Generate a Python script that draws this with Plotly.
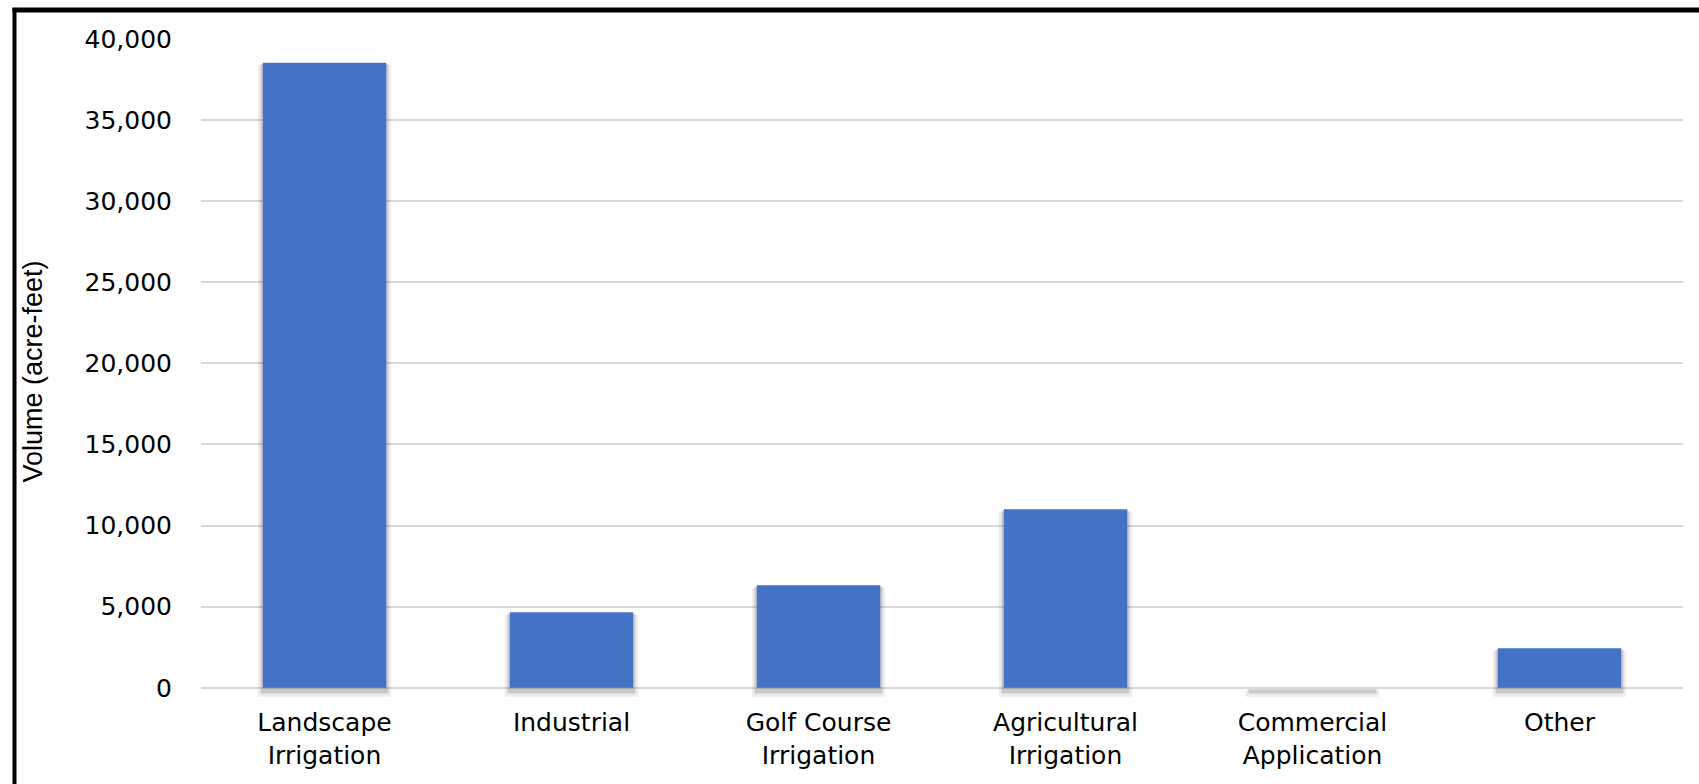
import plotly.graph_objects as go

# Reuse volume by category (acre-feet)
categories = [
    "Landscape<br>Irrigation",
    "Industrial",
    "Golf Course<br>Irrigation",
    "Agricultural<br>Irrigation",
    "Commercial<br>Application",
    "Other",
]
volumes = [38540, 4650, 6320, 11000, 0, 2430]
tick_values = [0, 5000, 10000, 15000, 20000, 25000, 30000, 35000, 40000]
tick_labels = ["0", "5,000", "10,000", "15,000", "20,000", "25,000", "30,000", "35,000", "40,000"]

BAR_BLUE = "#4472c4"
TICK_FONT = dict(family="DejaVu Sans", size=25, color="#000000")

fig = go.Figure()

# soft drop shadow under each column (two translucent layers)
fig.add_trace(go.Bar(
    x=categories, y=[v + 560 - 150 for v in volumes], base=-560,
    width=0.54, marker=dict(color="rgba(0,0,0,0.07)", line=dict(width=0)),
    hoverinfo="skip", showlegend=False,
))
fig.add_trace(go.Bar(
    x=categories, y=[v + 360 - 80 for v in volumes], base=-360,
    width=0.518, marker=dict(color="rgba(0,0,0,0.15)", line=dict(width=0)),
    hoverinfo="skip", showlegend=False,
))
# the columns themselves
fig.add_trace(go.Bar(
    x=categories, y=volumes, width=0.5,
    marker=dict(color=BAR_BLUE, line=dict(width=0)),
    name="Volume", showlegend=False,
))

fig.update_layout(
    width=1699,
    height=784,
    barmode="overlay",
    plot_bgcolor="white",
    paper_bgcolor="white",
    margin=dict(l=201, r=16, t=39, b=80),
    xaxis=dict(
        type="category",
        automargin=False,
        showgrid=False,
        showline=False,
        ticks="",
        tickfont=TICK_FONT,
        ticklabelstandoff=1,
    ),
    yaxis=dict(
        range=[-1000, 40000],
        automargin=False,
        tickvals=tick_values,
        ticktext=tick_labels,
        showgrid=True,
        gridcolor="#d9d9d9",
        gridwidth=2,
        zeroline=False,
        showline=False,
        ticks="",
        tickfont=TICK_FONT,
        ticklabelstandoff=28,
        title=dict(
            text="Volume (acre-feet)",
            font=dict(family="Liberation Sans", size=27, color="#000000"),
            standoff=34,
        ),
    ),
    shapes=[
        # black frame: left and top edges
        dict(type="line", xref="paper", yref="paper",
             x0=-(201 - 14.5) / 1482, x1=-(201 - 14.5) / 1482,
             y0=1 + (39 - 8) / 665, y1=-(80 + 5) / 665,
             line=dict(color="black", width=4)),
        dict(type="line", xref="paper", yref="paper",
             x0=-(201 - 12.5) / 1482, x1=1 + 20 / 1482,
             y0=1 + (39 - 10) / 665, y1=1 + (39 - 10) / 665,
             line=dict(color="black", width=5)),
    ],
)

fig.write_html("out.html")
